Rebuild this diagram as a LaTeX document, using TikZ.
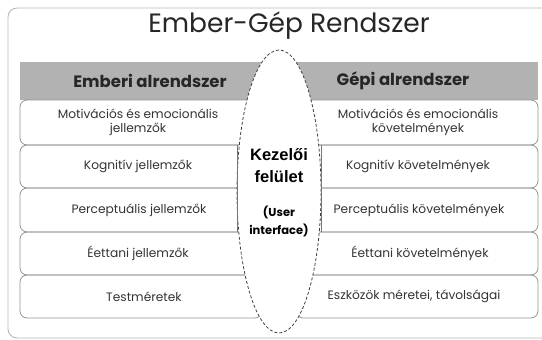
\documentclass[tikz,border=0pt]{standalone}
\usepackage{fontspec}
\setmainfont{Poppins}
\newfontfamily\arialf{Liberation Sans}
\usetikzlibrary{shapes.geometric}
\definecolor{framegray}{gray}{0.72}
\definecolor{boxgray}{gray}{0.58}
\definecolor{headgray}{gray}{0.70}
\definecolor{txt}{gray}{0.2}
\tikzset{
  rowbox/.style={draw=boxgray, line width=0.8pt, rounded corners=7pt, minimum width=242pt, minimum height=43pt, inner sep=0pt},
  rowtext/.style={font=\fontsize{12.2}{14.5}\selectfont, text=txt, align=center, inner sep=0pt},
  headtext/.style={font=\fontsize{16.5}{18}\selectfont\bfseries, text=black!85, inner sep=0pt},
}
\begin{document}
\begin{tikzpicture}[x=1pt,y=-1pt]
\useasboundingbox (0,0) rectangle (542,340);
\clip (0,0) rectangle (542,340);
% frame
\draw[framegray, line width=0.9pt, rounded corners=9pt] (8,8) rectangle (552,338);
% title
\node[font=\fontsize{26.5}{28}\selectfont, text=black!85, inner sep=0pt] (title) at (289,26) {Ember-Gép Rendszer};
% header band
\node[fill=headgray, minimum width=518pt, minimum height=38pt, inner sep=0pt] (head) at (279,81) {};
% boxes
\node[rowbox, minimum height=45pt] (l1) at (141,122.5) {};
\node[rowbox] (l2) at (141,166.5) {};
\node[rowbox, minimum height=44pt] (l3) at (141,210) {};
\node[rowbox] (l4) at (141,253.5) {};
\node[rowbox] (l5) at (141,296.5) {};
\node[rowbox, minimum height=45pt] (r1) at (417,122.5) {};
\node[rowbox] (r2) at (417,166.5) {};
\node[rowbox, minimum height=44pt] (r3) at (417,210) {};
\node[rowbox] (r4) at (417,253.5) {};
\node[rowbox] (r5) at (417,296.5) {};
% ellipse
\node[ellipse, draw=black!75, fill=white, line width=0.8pt, dash pattern=on 3pt off 2pt, minimum width=84pt, minimum height=283pt, inner sep=0pt] (ui) at (279,191.5) {};
% inner box edges
\draw[boxgray!80!black, line width=0.8pt] (237,145) -- (237,232);
\draw[boxgray!80!black, line width=0.8pt] (321,145) -- (321,232);
% header texts
\node[headtext] (hl) at (150,81) {Emberi alrendszer};
\node[headtext] (hr) at (403,81) {Gépi alrendszer};
% ellipse texts
\node[font=\arialf\fontsize{16.5}{22}\selectfont\bfseries, align=center, inner sep=0pt] (uit) at (279,166) {Kezelői\\felület};
\node[font=\fontsize{11.5}{18}\selectfont\bfseries, align=center, inner sep=0pt] (uis) at (279,221.5) {(User\\interface)};
% row texts
\node[rowtext] (tl1) at (138,122.5) {Motivációs és emocionális\\jellemzők};
\node[rowtext] (tl2) at (138,166.5) {Kognitív jellemzők};
\node[rowtext] (tl3) at (139,210) {Perceptuális jellemzők};
\node[rowtext] (tl4) at (138,253.5) {Éettani jellemzők};
\node[rowtext] (tl5) at (144,296.5) {Testméretek};
\node[rowtext] (tr1) at (418,122.5) {Motivációs és emocionális\\követelmények};
\node[rowtext] (tr2) at (418,166.5) {Kognitív követelmények};
\node[rowtext] (tr3) at (419,210) {Perceptuális követelmények};
\node[rowtext] (tr4) at (420,253.5) {Éettani követelmények};
\node[rowtext] (tr5) at (414,296.5) {Eszközök méretei, távolságai};
\end{tikzpicture}
\end{document}
